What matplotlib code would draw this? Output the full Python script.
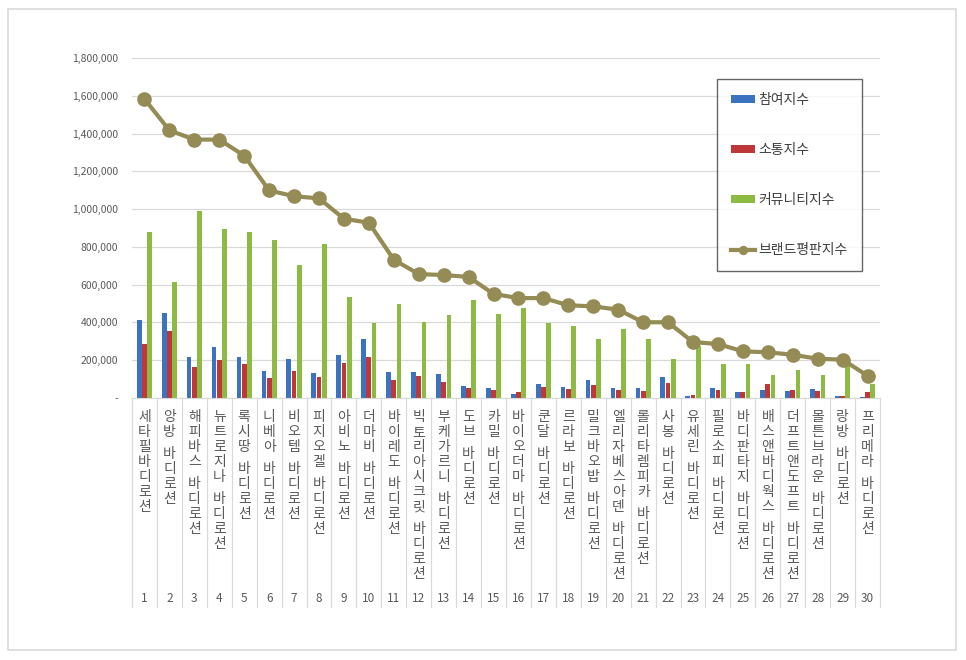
import numpy as np
import matplotlib
matplotlib.use("Agg")
import matplotlib.pyplot as plt
from matplotlib.patches import Rectangle
from matplotlib.ticker import FuncFormatter
import matplotlib.transforms as mtransforms

plt.rcParams['font.family'] = ['Noto Sans CJK KR', 'DejaVu Sans']

names = ["세타필바디로션", "앙방 바디로션", "해피바스 바디로션", "뉴트로지나 바디로션",
         "록시땅 바디로션", "니베아 바디로션", "비오템 바디로션", "피지오겔 바디로션",
         "아비노 바디로션", "더마비 바디로션", "바이레도 바디로션", "빅토리아시크릿 바디로션",
         "부케가르니 바디로션", "도브 바디로션", "카밀 바디로션", "바이오더마 바디로션",
         "쿤달 바디로션", "르라보 바디로션", "밀크바오밥 바디로션", "엘리자베스아덴 바디로션",
         "롤리타렘피카 바디로션", "사봉 바디로션", "유세린 바디로션", "필로소피 바디로션",
         "바디판타지 바디로션", "배스앤바디웍스 바디로션", "더프트앤도프트 바디로션",
         "몰튼브라운 바디로션", "랑방 바디로션", "프리메라 바디로션"]

# 참여지수
participation = [411000, 450000, 215000, 270000, 215000, 145000, 206000, 132000, 226000, 312000,
                 136000, 136000, 127000, 62000, 55000, 21000, 76000, 60000, 97000, 51000,
                 51000, 111000, 12000, 55000, 32000, 42000, 37000, 46000, 11000, 7000]
# 소통지수
communication = [288000, 353000, 162000, 199000, 182000, 106000, 145000, 111000, 185000, 215000,
                 97000, 115000, 83000, 51000, 41000, 32000, 56000, 48000, 71000, 42000,
                 37000, 78000, 16000, 42000, 32000, 76000, 42000, 37000, 11000, 32000]
# 커뮤니티지수
community = [879000, 612000, 988000, 895000, 879000, 838000, 702000, 813000, 533000, 397000,
             498000, 401000, 438000, 521000, 446000, 476000, 397000, 383000, 312000, 367000,
             312000, 206000, 274000, 182000, 182000, 122000, 146000, 122000, 176000, 76000]
# 브랜드평판지수
reputation = [1583000, 1417000, 1368000, 1368000, 1283000, 1099000, 1068000, 1057000, 949000, 928000,
              732000, 656000, 651000, 641000, 551000, 529000, 529000, 491000, 485000, 468000,
              401000, 401000, 296000, 286000, 247000, 242000, 229000, 208000, 203000, 118000]

W, H = 966, 660
fig = plt.figure(figsize=(W / 100, H / 100), dpi=100)
fig.patches.append(Rectangle((8 / W, 1 - 650 / H), 948 / W, 641 / H, transform=fig.transFigure,
                             fill=False, edgecolor='#d9d9d9', lw=1.2))

ax = fig.add_axes([132 / W, 262 / H, 748 / W, 340 / H])
x = np.arange(len(names))
bw = 0.19
b1 = ax.bar(x - 0.21, participation, bw, color='#3b73c0', zorder=2)
b2 = ax.bar(x, communication, bw, color='#c0373a', zorder=2)
b3 = ax.bar(x + 0.21, community, bw, color='#8cba42', zorder=2)
ln, = ax.plot(x, reputation, color='#958b55', lw=3, marker='o', markersize=9.5, zorder=3)

ax.set_xlim(-0.5, len(names) - 0.5)
ax.set_ylim(0, 1800000)
ax.set_yticks(np.arange(0, 1800001, 200000))
ax.yaxis.set_major_formatter(FuncFormatter(lambda v, p: '-' if v == 0 else f'{int(v):,}'))
ax.tick_params(axis='y', length=0, pad=10, labelsize=7.5, labelcolor='#595959')
ax.set_xticks([])
ax.grid(axis='y', color='#d9d9d9', lw=0.9, zorder=0)
for s in ['top', 'right', 'left']:
    ax.spines[s].set_visible(False)
ax.spines['bottom'].set_color('#d9d9d9')

# category table below the axis
trans = mtransforms.blended_transform_factory(ax.transData, ax.transAxes)
for b in np.arange(-0.5, len(names), 1.0):
    ax.plot([b, b], [0, -209 / 340], transform=trans, color='#d9d9d9', lw=0.9, clip_on=False)

px = 0.72  # points per pixel
for i, name in enumerate(names):
    # stack the characters vertically, a space gives a half gap
    off = 19
    for ch in name:
        if ch == ' ':
            off += 7
            continue
        ax.annotate(ch, xy=(i, 0), xycoords=trans, xytext=(0, -off * px),
                    textcoords='offset points', ha='center', va='center',
                    fontsize=10, color='#595959')
        off += 15
    ax.annotate(str(i + 1), xy=(i, 0), xycoords=trans, xytext=(0, -200 * px),
                textcoords='offset points', ha='center', va='center',
                fontsize=8.5, color='#595959')

leg = ax.legend([b1, b2, b3, ln], ['참여지수', '소통지수', '커뮤니티지수', '브랜드평판지수'],
                loc='upper left', bbox_to_anchor=(717 / W, 1 - 79 / H),
                bbox_transform=fig.transFigure, borderaxespad=0, fontsize=10,
                frameon=True, fancybox=False, edgecolor='#404040', labelspacing=2.6,
                borderpad=1.0, handlelength=1.7, handleheight=0.5, handletextpad=0.3,
                markerscale=0.6)
leg.get_frame().set_linewidth(1.0)
for t in leg.get_texts():
    t.set_color('#404040')

fig.savefig('out.png', dpi=100)
